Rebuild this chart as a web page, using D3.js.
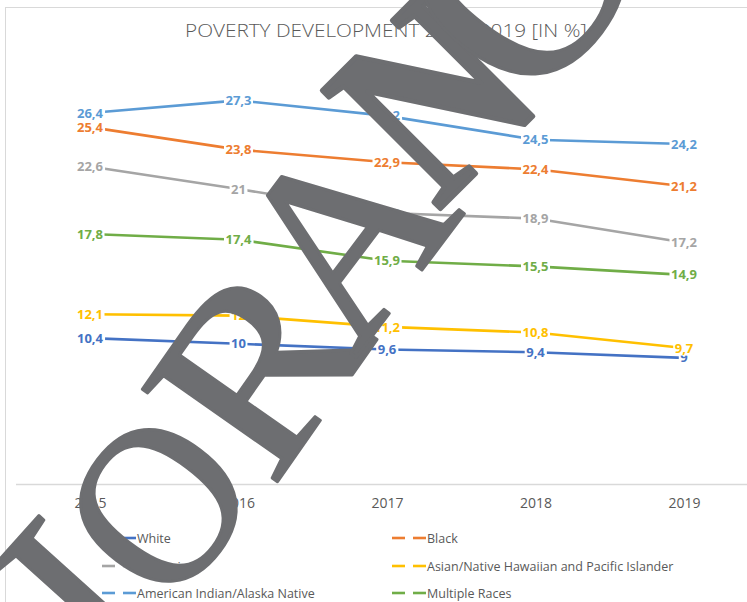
<!DOCTYPE html>
<html>
<head>
<meta charset="utf-8">
<script src="https://cdn.jsdelivr.net/npm/d3@7"></script>
<style>
  html, body { margin: 0; padding: 0; background: #fff; }
  svg { display: block; }
</style>
</head>
<body>
<svg id="chart" width="747" height="602"></svg>
<script>
const years = ["2015", "2016", "2017", "2018", "2019"];
const seriesNames = ["White", "Black", "Hispanic", "Asian/Native Hawaiian and Pacific Islander", "American Indian/Alaska Native", "Multiple Races"];
const white    = [10.4, 10, 9.6, 9.4, 9];
const black    = [25.4, 23.8, 22.9, 22.4, 21.2];
const hispanic = [22.6, 21, 19.3, 18.9, 17.2];
const asian    = [12.1, 12, 11.2, 10.8, 9.7];
const amInd    = [26.4, 27.3, 26.2, 24.5, 24.2];
const multi    = [17.8, 17.4, 15.9, 15.5, 14.9];
const colors   = ["#4472C4", "#ED7D31", "#A5A5A5", "#FFC000", "#5B9BD5", "#70AD47"];
const title = "POVERTY DEVELOPMENT 2015-2019 [IN %]";
const watermarkLetters = ["I", "O", "R", "A", "N", "O"];

const seriesValues = [white, black, hispanic, asian, amInd, multi];
const series = seriesNames.map((n, i) => ({ name: n, values: seriesValues[i], color: colors[i] }));

const svg = d3.select("#chart");

// chart border
svg.append("rect").attr("x", 5.5).attr("y", 7.5).attr("width", 760).attr("height", 620)
  .attr("fill", "none").attr("stroke", "#d9d9d9").attr("stroke-width", 1);

// title
svg.append("text").attr("x", 386).attr("y", 37).attr("text-anchor", "middle")
  .attr("font-family", "'Open Sans', sans-serif").attr("font-size", 19).attr("font-weight", 300)
  .attr("fill", "#595959").attr("textLength", 402).attr("lengthAdjust", "spacingAndGlyphs")
  .text(title);

const x = d3.scalePoint().domain(years).range([90, 684]);
const y = d3.scaleLinear().domain([0, 30]).range([484.5, 62.4]);

// x axis
const xAxis = d3.axisBottom(x).tickSize(0).tickPadding(14);
const gx = svg.append("g").attr("transform", `translate(0,${y(0)})`).call(xAxis);
gx.select(".domain").remove();
gx.append("line").attr("x1", 16).attr("x2", 760).attr("stroke", "#d9d9d9").attr("stroke-width", 1.3);
gx.selectAll(".tick text").attr("font-family", "'Open Sans', sans-serif").attr("font-size", 14)
  .attr("fill", "#595959");

const line = d3.line().x((d, i) => x(years[i])).y(d => y(d));

const gS = svg.append("g");
series.forEach(s => {
  gS.append("path").attr("d", line(s.values)).attr("fill", "none")
    .attr("stroke", s.color).attr("stroke-width", 2.6).attr("stroke-linejoin", "round");
});

// data labels with white background
const fmt = v => String(v).replace(".", ",");
series.forEach(s => {
  s.values.forEach((v, i) => {
    const g = gS.append("g");
    const t = g.append("text").attr("x", x(years[i])).attr("y", y(v) + 4.6)
      .attr("text-anchor", "middle").attr("font-family", "'Open Sans', sans-serif")
      .attr("font-weight", "bold").attr("font-size", 13).attr("fill", s.color).text(fmt(v));
    const bb = t.node().getBBox();
    g.insert("rect", "text").attr("x", bb.x - 1.5).attr("y", bb.y + 1).attr("width", bb.width + 3)
      .attr("height", bb.height - 2).attr("fill", "#fff");
  });
});

// legend
const legendPos = [[102, 538], [392, 538], [102, 566], [392, 566], [102, 593], [392, 593]];
series.forEach((s, i) => {
  const [lx, ly] = legendPos[i];
  const g = svg.append("g").attr("transform", `translate(${lx},${ly})`);
  g.append("line").attr("x1", 0).attr("x2", 13).attr("stroke", s.color).attr("stroke-width", 2.6);
  g.append("line").attr("x1", 21).attr("x2", 34).attr("stroke", s.color).attr("stroke-width", 2.6);
  g.append("text").attr("x", 35).attr("y", 4.5).attr("font-family", "'Open Sans', sans-serif")
    .attr("font-size", 12.5).attr("fill", "#595959").text(s.name);
});

// watermark overlay (letters placed individually along a diagonal, by letter centre)
const wmLayout = [
  { cx: 78,  cy: 596, rot: -48, size: 255, sx: 1.0,  bold: false },
  { cx: 158, cy: 505, rot: -53, size: 228, sx: 0.95, bold: false },
  { cx: 257, cy: 367, rot: -55, size: 250, sx: 1.1,  bold: false },
  { cx: 343, cy: 235, rot: -53, size: 255, sx: 1.0,  bold: false },
  { cx: 433, cy: 97,  rot: -45, size: 255, sx: 0.85, bold: true },
  { cx: 522, cy: -27, rot: -53, size: 293, sx: 1.0,  bold: false }
];
const wm = svg.append("g");
watermarkLetters.forEach((ch, i) => {
  const L = wmLayout[i];
  wm.append("text")
    .attr("transform", `translate(${L.cx},${L.cy}) rotate(${L.rot}) scale(${L.sx},1)`)
    .attr("x", 0).attr("y", L.size * 0.33)
    .attr("text-anchor", "middle")
    .attr("font-family", "'Liberation Serif', serif").attr("font-size", L.size)
    .attr("font-weight", L.bold ? "bold" : "normal")
    .attr("fill", "#6d6e71").attr("stroke", "#6d6e71").attr("stroke-width", L.bold ? 5 : 3)
    .attr("stroke-linejoin", "round").text(ch);
});
</script>
</body>
</html>
